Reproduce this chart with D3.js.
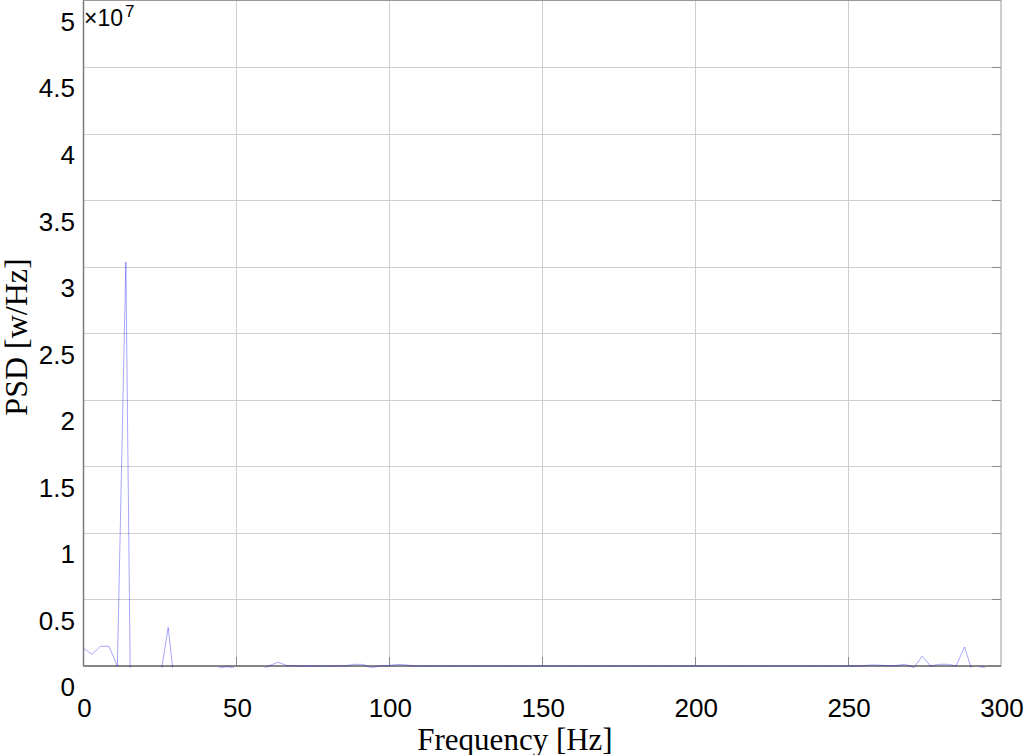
<!DOCTYPE html>
<html>
<head>
<meta charset="utf-8">
<script src="https://cdn.jsdelivr.net/npm/d3@7"></script>
<style>
  html, body { margin: 0; padding: 0; background: #fff; }
  svg { display: block; }
</style>
</head>
<body>
<div id="chart"></div>
<script>
// PSD estimate, values in units of 1e7 w/Hz, one per FFT bin
const FREQ_STEP = 2.77 // Hz per bin
const psd = [
  0.133, 0.088, 0.148, 0.148, 0.0, 3.035, -2.96, -2.1, -1.2, -0.113,
  0.29, -0.29, -0.21, -0.12, -0.06, -0.03, -0.015, -0.004, -0.02, -0.04,
  -0.05, -0.03, 0.005, 0.028, 0.003, 0.001, 0.0, 0.001, 0.0, 0.0,
  0.001, 0.002, 0.013, 0.012, -0.014, 0.001, 0.002, 0.012, 0.009, 0.0,
  0.0, 0.0, 0.0, 0.0, 0.0, 0.0, 0.0, 0.0, 0.0, 0.0,
  0.0, 0.0, 0.0, 0.0, 0.0, 0.0, 0.0, 0.0, 0.0, 0.0,
  0.0, 0.0, 0.0, 0.0, 0.0, 0.0, 0.0, 0.0, 0.0, 0.0,
  0.0, 0.0, 0.0, 0.0, 0.0, 0.0, 0.0, 0.0, 0.0, 0.0,
  0.0, 0.0, 0.0, 0.0, 0.0, 0.0, 0.0, 0.0, 0.0, 0.0,
  0.0, 0.0, 0.002, 0.008, 0.006, 0.001, 0.004, 0.013, -0.012, 0.073,
  0.0, 0.013, 0.013, 0.0, 0.143, -0.058, -0.004, -0.03, -0.05, -0.04
]
const xTicks = [0, 50, 100, 150, 200, 250, 300]
const yTicks = [0, 0.5, 1, 1.5, 2, 2.5, 3, 3.5, 4, 4.5, 5]
const yTickLabels = ['0', '0.5', '1', '1.5', '2', '2.5', '3', '3.5', '4', '4.5', '5']

const width = 1024
const height = 755
const plotLeft = 83.5
const plotRight = 1001
const plotTop = 0.5
const plotBottom = 666

let points = psd.map((v, i) => ({ f: i * FREQ_STEP, v: v }))

let x = d3.scaleLinear().domain([0, 300]).range([plotLeft, plotRight])
let y = d3.scaleLinear().domain([0, 5]).range([plotBottom, plotTop])

let svg = d3.select('#chart').append('svg')
  .attr('width', width)
  .attr('height', height)
  .attr('font-family', 'Liberation Sans, Arial, sans-serif')

// grid
let grid = svg.append('g')
  .attr('stroke', '#cfcfcf')
  .attr('stroke-width', 1)

grid.selectAll('line.gx')
  .data(xTicks.slice(1, -1))
  .join('line')
  .attr('class', 'gx')
  .attr('x1', d => Math.round(x(d)) + 0.5)
  .attr('x2', d => Math.round(x(d)) + 0.5)
  .attr('y1', plotTop)
  .attr('y2', plotBottom)

grid.selectAll('line.gy')
  .data(yTicks.slice(1, -1))
  .join('line')
  .attr('class', 'gy')
  .attr('x1', plotLeft)
  .attr('x2', plotRight)
  .attr('y1', d => Math.round(y(d)) + 0.5)
  .attr('y2', d => Math.round(y(d)) + 0.5)

// inward ticks
let ticks = svg.append('g')
  .attr('stroke', '#8a8a8a')
  .attr('stroke-width', 1)

ticks.selectAll('line.tx')
  .data(xTicks.slice(1, -1))
  .join('line')
  .attr('class', 'tx')
  .attr('x1', d => Math.round(x(d)) + 0.5)
  .attr('x2', d => Math.round(x(d)) + 0.5)
  .attr('y1', plotBottom)
  .attr('y2', plotBottom - 9)

ticks.selectAll('line.ty')
  .data(yTicks.slice(1, -1))
  .join('line')
  .attr('class', 'ty')
  .attr('x1', plotRight)
  .attr('x2', plotRight - 9)
  .attr('y1', d => Math.round(y(d)) + 0.5)
  .attr('y2', d => Math.round(y(d)) + 0.5)

// axes box
svg.append('rect')
  .attr('x', plotLeft)
  .attr('y', plotTop)
  .attr('width', plotRight - plotLeft)
  .attr('height', plotBottom - plotTop)
  .attr('fill', 'none')
  .attr('stroke', '#9a9a9a')
  .attr('stroke-width', 1)

svg.append('line')
  .attr('x1', plotLeft).attr('x2', plotRight)
  .attr('y1', plotBottom).attr('y2', plotBottom)
  .attr('stroke', '#6e6e6e')
  .attr('stroke-width', 1.5)

svg.append('line')
  .attr('x1', plotLeft).attr('x2', plotLeft)
  .attr('y1', plotTop).attr('y2', plotBottom)
  .attr('stroke', '#7a7a7a')
  .attr('stroke-width', 1.5)

// data line, clipped to the axes (a hair below the baseline like the original)
svg.append('clipPath')
  .attr('id', 'plot-clip')
  .append('rect')
  .attr('x', plotLeft)
  .attr('y', plotTop)
  .attr('width', plotRight - plotLeft)
  .attr('height', plotBottom - plotTop + 2)

svg.append('path')
  .datum(points)
  .attr('clip-path', 'url(#plot-clip)')
  .attr('fill', 'none')
  .attr('stroke', '#0000ff')
  .attr('stroke-opacity', 0.35)
  .attr('stroke-width', 1)
  .attr('d', d3.line().x(d => x(d.f)).y(d => y(d.v)))

// tick labels
svg.append('g')
  .attr('font-size', 26)
  .attr('fill', '#000')
  .selectAll('text')
  .data(xTicks)
  .join('text')
  .attr('x', d => x(d) + 1)
  .attr('y', 708)
  .attr('dy', '0.36em')
  .attr('text-anchor', 'middle')
  .text(d => d)

svg.append('g')
  .attr('font-size', 26)
  .attr('fill', '#000')
  .selectAll('text')
  .data(yTicks)
  .join('text')
  .attr('x', 75)
  .attr('y', d => y(d) + 21)
  .attr('dy', '0.36em')
  .attr('text-anchor', 'end')
  .text((d, i) => yTickLabels[i])

// exponent
let expo = svg.append('text')
  .attr('x', 84)
  .attr('y', 26)
  .attr('font-size', 23)
  .attr('fill', '#000')
expo.append('tspan').text('\u00d710')
expo.append('tspan')
  .attr('font-size', 17)
  .attr('dy', -9)
  .attr('dx', 2)
  .text('7')

// axis titles
svg.append('text')
  .attr('x', 515)
  .attr('y', 750)
  .attr('text-anchor', 'middle')
  .attr('font-family', 'Liberation Serif, Times New Roman, serif')
  .attr('font-size', 31)
  .text('Frequency [Hz]')

svg.append('text')
  .attr('transform', 'translate(27,337) rotate(-90)')
  .attr('text-anchor', 'middle')
  .attr('font-family', 'Liberation Serif, Times New Roman, serif')
  .attr('font-size', 32)
  .text('PSD [w/Hz]')
</script>
</body>
</html>
